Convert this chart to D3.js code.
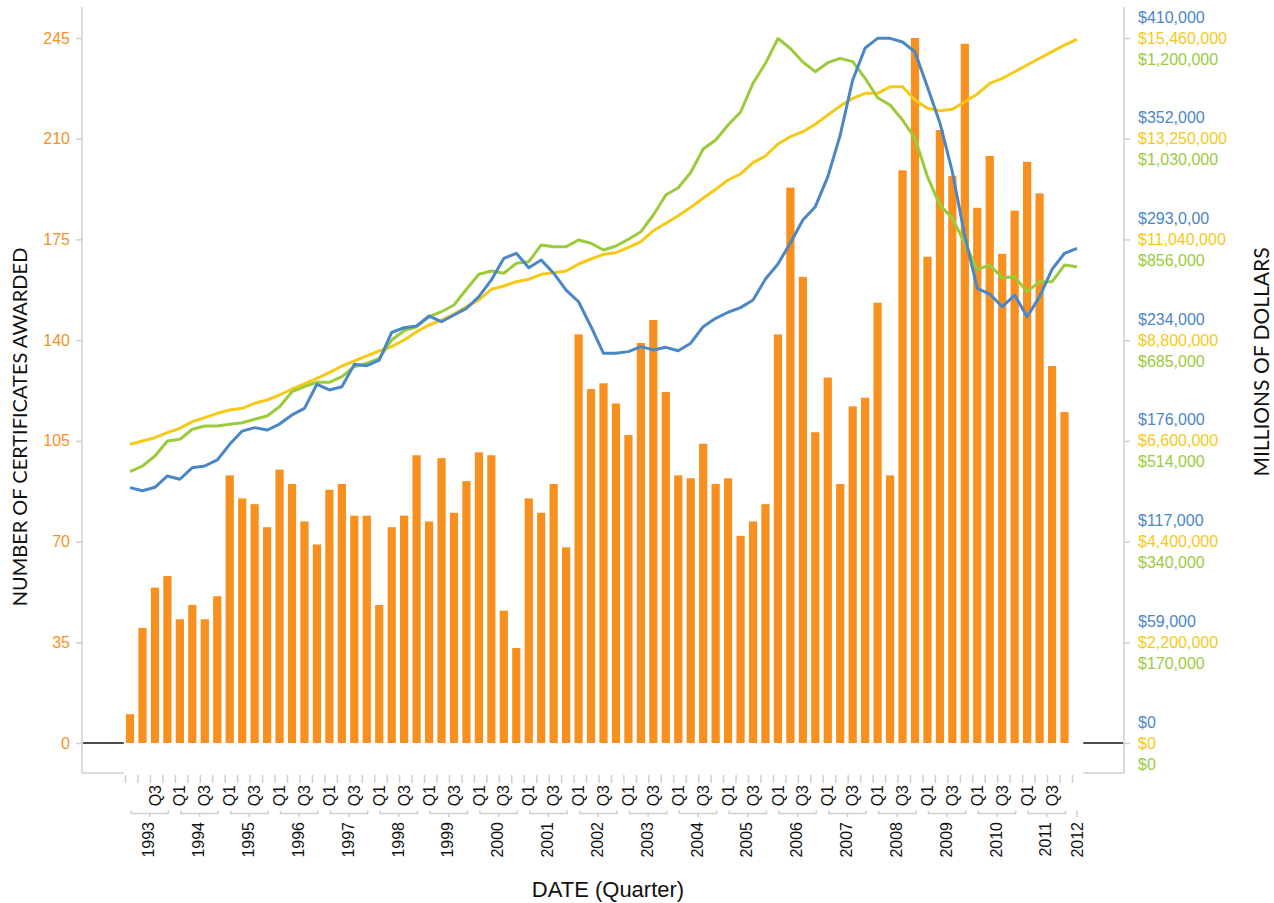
<!DOCTYPE html>
<html>
<head>
<meta charset="utf-8">
<script src="https://cdn.jsdelivr.net/npm/d3@7"></script>
<style>
  body { margin: 0; background: #fff; }
  svg { display: block; }
  .tick-label { font-family: "Liberation Sans", Arial, sans-serif; font-size: 16px; }
  .xq { font-family: "Liberation Sans", Arial, sans-serif; font-size: 16px; fill: #111; }
  .title { font-family: Lato, "Noto Sans", sans-serif; font-size: 20px; fill: #111; }
</style>
</head>
<body>
<div id="chart"></div>
<script>
// Categories: quarters 1993 Q1 .. 2012 Q1
const years = [1993, 1994, 1995, 1996, 1997, 1998, 1999, 2000, 2001, 2002,
               2003, 2004, 2005, 2006, 2007, 2008, 2009, 2010, 2011, 2012];
const quarterNames = ['Q1', 'Q2', 'Q3', 'Q4'];

// Number of certificates awarded (bars), last quarter has no bar
const certificates = [
    10, 40, 54, 58, 43, 48, 43, 51, 93, 85,
    83, 75, 95, 90, 77, 69, 88, 90, 79, 79,
    48, 75, 79, 100, 77, 99, 80, 91, 101, 100,
    46, 33, 85, 80, 90, 68, 142, 123, 125, 118,
    107, 139, 147, 122, 93, 92, 104, 90, 92, 72,
    77, 83, 142, 193, 162, 108, 127, 90, 117, 120,
    153, 93, 199, 245, 169, 213, 197, 243, 186, 204,
    170, 185, 202, 191, 131, 115, null
];

// Dollar series (right axis, each on its own scale)
const seriesBlue = [
    148500, 146700, 148700, 155300, 153400, 160100, 161100, 164600, 173700, 181400,
    183400, 182000, 185500, 190800, 194600, 208600, 205300, 207200, 220200, 219400,
    222700, 238800, 241500, 242500, 248300, 245000, 248900, 252800, 259600, 269300,
    281900, 284800, 276400, 280900, 273200, 263400, 256600, 242100, 226600, 226600,
    227600, 230500, 228600, 230100, 228100, 232500, 242100, 247000, 250500, 253200,
    257600, 269800, 278600, 290800, 304200, 311900, 329200, 353600, 385600, 404200,
    409800, 409800, 407700, 401900, 381500, 360600, 332100, 294900, 264400, 261100,
    253700, 260500, 247900, 259600, 275500, 284800, 287700
];
const seriesYellow = [
    6550000, 6623000, 6695000, 6805000, 6901000, 7046000, 7134000, 7230000, 7302000, 7340000,
    7449000, 7522000, 7631000, 7763000, 7873000, 7998000, 8121000, 8267000, 8377000, 8487000,
    8596000, 8691000, 8837000, 9020000, 9166000, 9276000, 9408000, 9568000, 9715000, 9949000,
    10022000, 10116000, 10168000, 10278000, 10313000, 10351000, 10504000, 10614000, 10717000, 10752000,
    10870000, 10993000, 11234000, 11397000, 11563000, 11747000, 11945000, 12142000, 12346000, 12478000,
    12726000, 12872000, 13136000, 13296000, 13405000, 13567000, 13771000, 13969000, 14138000, 14247000,
    14247000, 14392000, 14392000, 14100000, 13918000, 13866000, 13896000, 14063000, 14232000, 14467000,
    14576000, 14721000, 14868000, 15015000, 15160000, 15306000, 15431000
];
const seriesGreen = [
    461800, 471500, 488500, 514000, 516900, 534000, 539600, 539600, 542500, 545200,
    551000, 556600, 572400, 598000, 606500, 614000, 614000, 623500, 640500, 646300,
    654800, 686000, 701800, 708600, 725600, 734100, 745500, 772300, 797800, 803400,
    799500, 816500, 819200, 847700, 844800, 844800, 856200, 850600, 839200, 846000,
    857400, 870300, 898700, 932800, 945200, 971000, 1011000, 1026400, 1051900, 1074000,
    1122900, 1156900, 1199200, 1182100, 1159200, 1142700, 1158000, 1165400, 1159700, 1131400,
    1098400, 1086000, 1060400, 1029300, 963900, 915700, 893100, 850600, 806300, 813600,
    792000, 793700, 768200, 785200, 785200, 813600, 810700
];

// Axis tick labels
const leftTicks = [0, 35, 70, 105, 140, 175, 210, 245];
const blueTicks = ['$0', '$59,000', '$117,000', '$176,000', '$234,000', '$293,0,00', '$352,000', '$410,000'];
const yellowTicks = ['$0', '$2,200,000', '$4,400,000', '$6,600,000', '$8,800,000', '$11,040,000', '$13,250,000', '$15,460,000'];
const greenTicks = ['$0', '$170,000', '$340,000', '$514,000', '$685,000', '$856,000', '$1,030,000', '$1,200,000'];

const COLORS = {
    bar: '#f7901e',
    blue: '#4b86c5',
    yellow: '#f6c918',
    green: '#9bcb3b',
    axis: '#cfcfcf'
};

const width = 1274, height = 903;
const plotLeft = 82, plotRight = 1124, plotTop = 7, plotBottom = 773;

// quarter keys
const quarters = [];
years.forEach(y => quarterNames.forEach((q, qi) => {
    if (quarters.length < certificates.length) quarters.push({ year: y, q: q, qi: qi, key: `${y}-${q}` });
}));

const x = d3.scaleBand()
    .domain(quarters.map(d => d.key))
    .range([123.8, 1083.2])
    .paddingInner(0.34)
    .paddingOuter(0.17);
const xc = k => x(k) + x.bandwidth() / 2;

const yLeft = d3.scaleLinear().domain([0, 245]).range([743, 38]);
const yBlue = d3.scaleLinear().domain([0, 410000]).range([743, 38]);
const yYellow = d3.scaleLinear().domain([0, 15460000]).range([743, 38]);
const yGreen = d3.scaleLinear().domain([0, 1200000]).range([743, 38]);

const svg = d3.select('#chart').append('svg')
    .attr('width', width)
    .attr('height', height);

// Axis frame lines
const frame = svg.append('g').attr('stroke', COLORS.axis).attr('stroke-width', 1.5);
frame.append('line').attr('x1', plotLeft).attr('x2', plotLeft).attr('y1', plotTop).attr('y2', plotBottom);
frame.append('line').attr('x1', plotRight).attr('x2', plotRight).attr('y1', plotTop).attr('y2', plotBottom);
frame.append('line').attr('x1', plotLeft).attr('x2', x.range()[0]).attr('y1', plotBottom).attr('y2', plotBottom);
frame.append('line').attr('x1', x.range()[1]).attr('x2', plotRight).attr('y1', plotBottom).attr('y2', plotBottom);

// Left axis
const leftAxis = svg.append('g')
    .attr('transform', `translate(${plotLeft},0)`)
    .call(d3.axisLeft(yLeft).tickValues(leftTicks).tickSize(6).tickPadding(6));
leftAxis.select('.domain').remove();
leftAxis.selectAll('.tick line').attr('stroke', COLORS.axis).attr('stroke-width', 1.5);
leftAxis.selectAll('.tick text')
    .attr('class', 'tick-label')
    .attr('fill', COLORS.bar)
    .style('font-size', '16px')
    .style('font-family', '"Liberation Sans", Arial, sans-serif');

// Right axis: three label sets on shared tick positions
const rightAxis = svg.append('g')
    .attr('transform', `translate(${plotRight},0)`)
    .call(d3.axisRight(yLeft).tickValues(leftTicks).tickSize(6).tickFormat(''));
rightAxis.select('.domain').remove();
rightAxis.selectAll('.tick line').attr('stroke', COLORS.axis).attr('stroke-width', 1.5);

const rightLabels = [
    { labels: blueTicks, color: COLORS.blue, dy: -21 },
    { labels: yellowTicks, color: COLORS.yellow, dy: 0 },
    { labels: greenTicks, color: COLORS.green, dy: 21 }
];
rightLabels.forEach(set => {
    svg.append('g').selectAll('text')
        .data(leftTicks)
        .enter()
        .append('text')
        .attr('class', 'tick-label')
        .attr('x', 1138)
        .attr('y', (d) => yLeft(d) + set.dy)
        .attr('dy', '0.35em')
        .attr('fill', set.color)
        .text((d, i) => set.labels[i]);
});

// Zero line (only visible outside the bar band)
const zero = svg.append('g').attr('stroke', '#111').attr('stroke-width', 1.5);
zero.append('line').attr('x1', plotLeft + 1).attr('x2', x.range()[0]).attr('y1', yLeft(0)).attr('y2', yLeft(0));
zero.append('line').attr('x1', x.range()[1]).attr('x2', plotRight - 1).attr('y1', yLeft(0)).attr('y2', yLeft(0));

// Bars
svg.append('g').selectAll('rect')
    .data(quarters.map((d, i) => ({ key: d.key, v: certificates[i] })).filter(d => d.v != null))
    .enter()
    .append('rect')
    .attr('x', d => x(d.key))
    .attr('width', x.bandwidth())
    .attr('y', d => yLeft(d.v))
    .attr('height', d => yLeft(0) - yLeft(d.v))
    .attr('fill', COLORS.bar);

// Lines
const lineSets = [
    { values: seriesYellow, scale: yYellow, color: COLORS.yellow },
    { values: seriesGreen, scale: yGreen, color: COLORS.green },
    { values: seriesBlue, scale: yBlue, color: COLORS.blue }
];
lineSets.forEach(s => {
    const line = d3.line()
        .x((d, i) => xc(quarters[i].key))
        .y(d => s.scale(d));
    svg.append('path')
        .datum(s.values)
        .attr('fill', 'none')
        .attr('stroke', s.color)
        .attr('stroke-width', 3)
        .attr('stroke-linejoin', 'round')
        .attr('d', line);
});

// X axis: quarter ticks
const xAxis = svg.append('g');
xAxis.selectAll('line.qtick')
    .data(quarters)
    .enter()
    .append('line')
    .attr('class', 'qtick')
    .attr('x1', d => xc(d.key) - 4.5)
    .attr('x2', d => xc(d.key) - 4.5)
    .attr('y1', 775)
    .attr('y2', 783)
    .attr('stroke', COLORS.axis)
    .attr('stroke-width', 1.5);

// Quarter labels (Q1 and Q3, first and last quarters skipped)
const qLabelled = quarters.filter((d, i) => i > 0 && i < quarters.length - 1 && (d.q === 'Q1' || d.q === 'Q3'));
xAxis.selectAll('text.qlab')
    .data(qLabelled)
    .enter()
    .append('text')
    .attr('class', 'xq')
    .attr('transform', d => `translate(${xc(d.key)},785) rotate(-90)`)
    .attr('text-anchor', 'end')
    .attr('dy', '0.35em')
    .text(d => d.q);

// Year brackets and labels
const yearGroups = d3.groups(quarters, d => d.year);
const brackets = xAxis.append('g').attr('stroke', COLORS.axis).attr('stroke-width', 1.5).attr('fill', 'none');
yearGroups.forEach(([yr, qs]) => {
    const x0 = xc(qs[0].key), x1 = xc(qs[qs.length - 1].key);
    const mid = (x0 + x1) / 2;
    if (qs.length > 1) {
        brackets.append('path')
            .attr('d', `M${x0 + 1},810.5 V813.5 H${x1 + 1} V810.5`);
        brackets.append('line').attr('x1', mid + 1).attr('x2', mid + 1).attr('y1', 813.5).attr('y2', 817);
    } else {
        brackets.append('line').attr('x1', mid).attr('x2', mid).attr('y1', 810.5).attr('y2', 817);
    }
    xAxis.append('text')
        .attr('class', 'xq')
        .attr('transform', `translate(${mid},822) rotate(-90)`)
        .attr('text-anchor', 'end')
        .attr('dy', '0.35em')
        .text(yr);
});

// Titles
svg.append('text')
    .attr('class', 'title')
    .attr('transform', 'translate(20,427) rotate(-90)')
    .attr('text-anchor', 'middle')
    .attr('dy', '0.35em')
    .text('NUMBER OF CERTIFICATES AWARDED');

svg.append('text')
    .attr('class', 'title')
    .attr('transform', 'translate(1262,362) rotate(-90)')
    .attr('text-anchor', 'middle')
    .attr('dy', '0.35em')
    .style('font-size', '21px')
    .text('MILLIONS OF DOLLARS');

svg.append('text')
    .attr('x', 608)
    .attr('y', 889)
    .attr('dy', '0.35em')
    .attr('text-anchor', 'middle')
    .style('font-family', '"Liberation Sans", Arial, sans-serif')
    .style('font-size', '22px')
    .attr('fill', '#111')
    .text('DATE (Quarter)');
</script>
</body>
</html>
